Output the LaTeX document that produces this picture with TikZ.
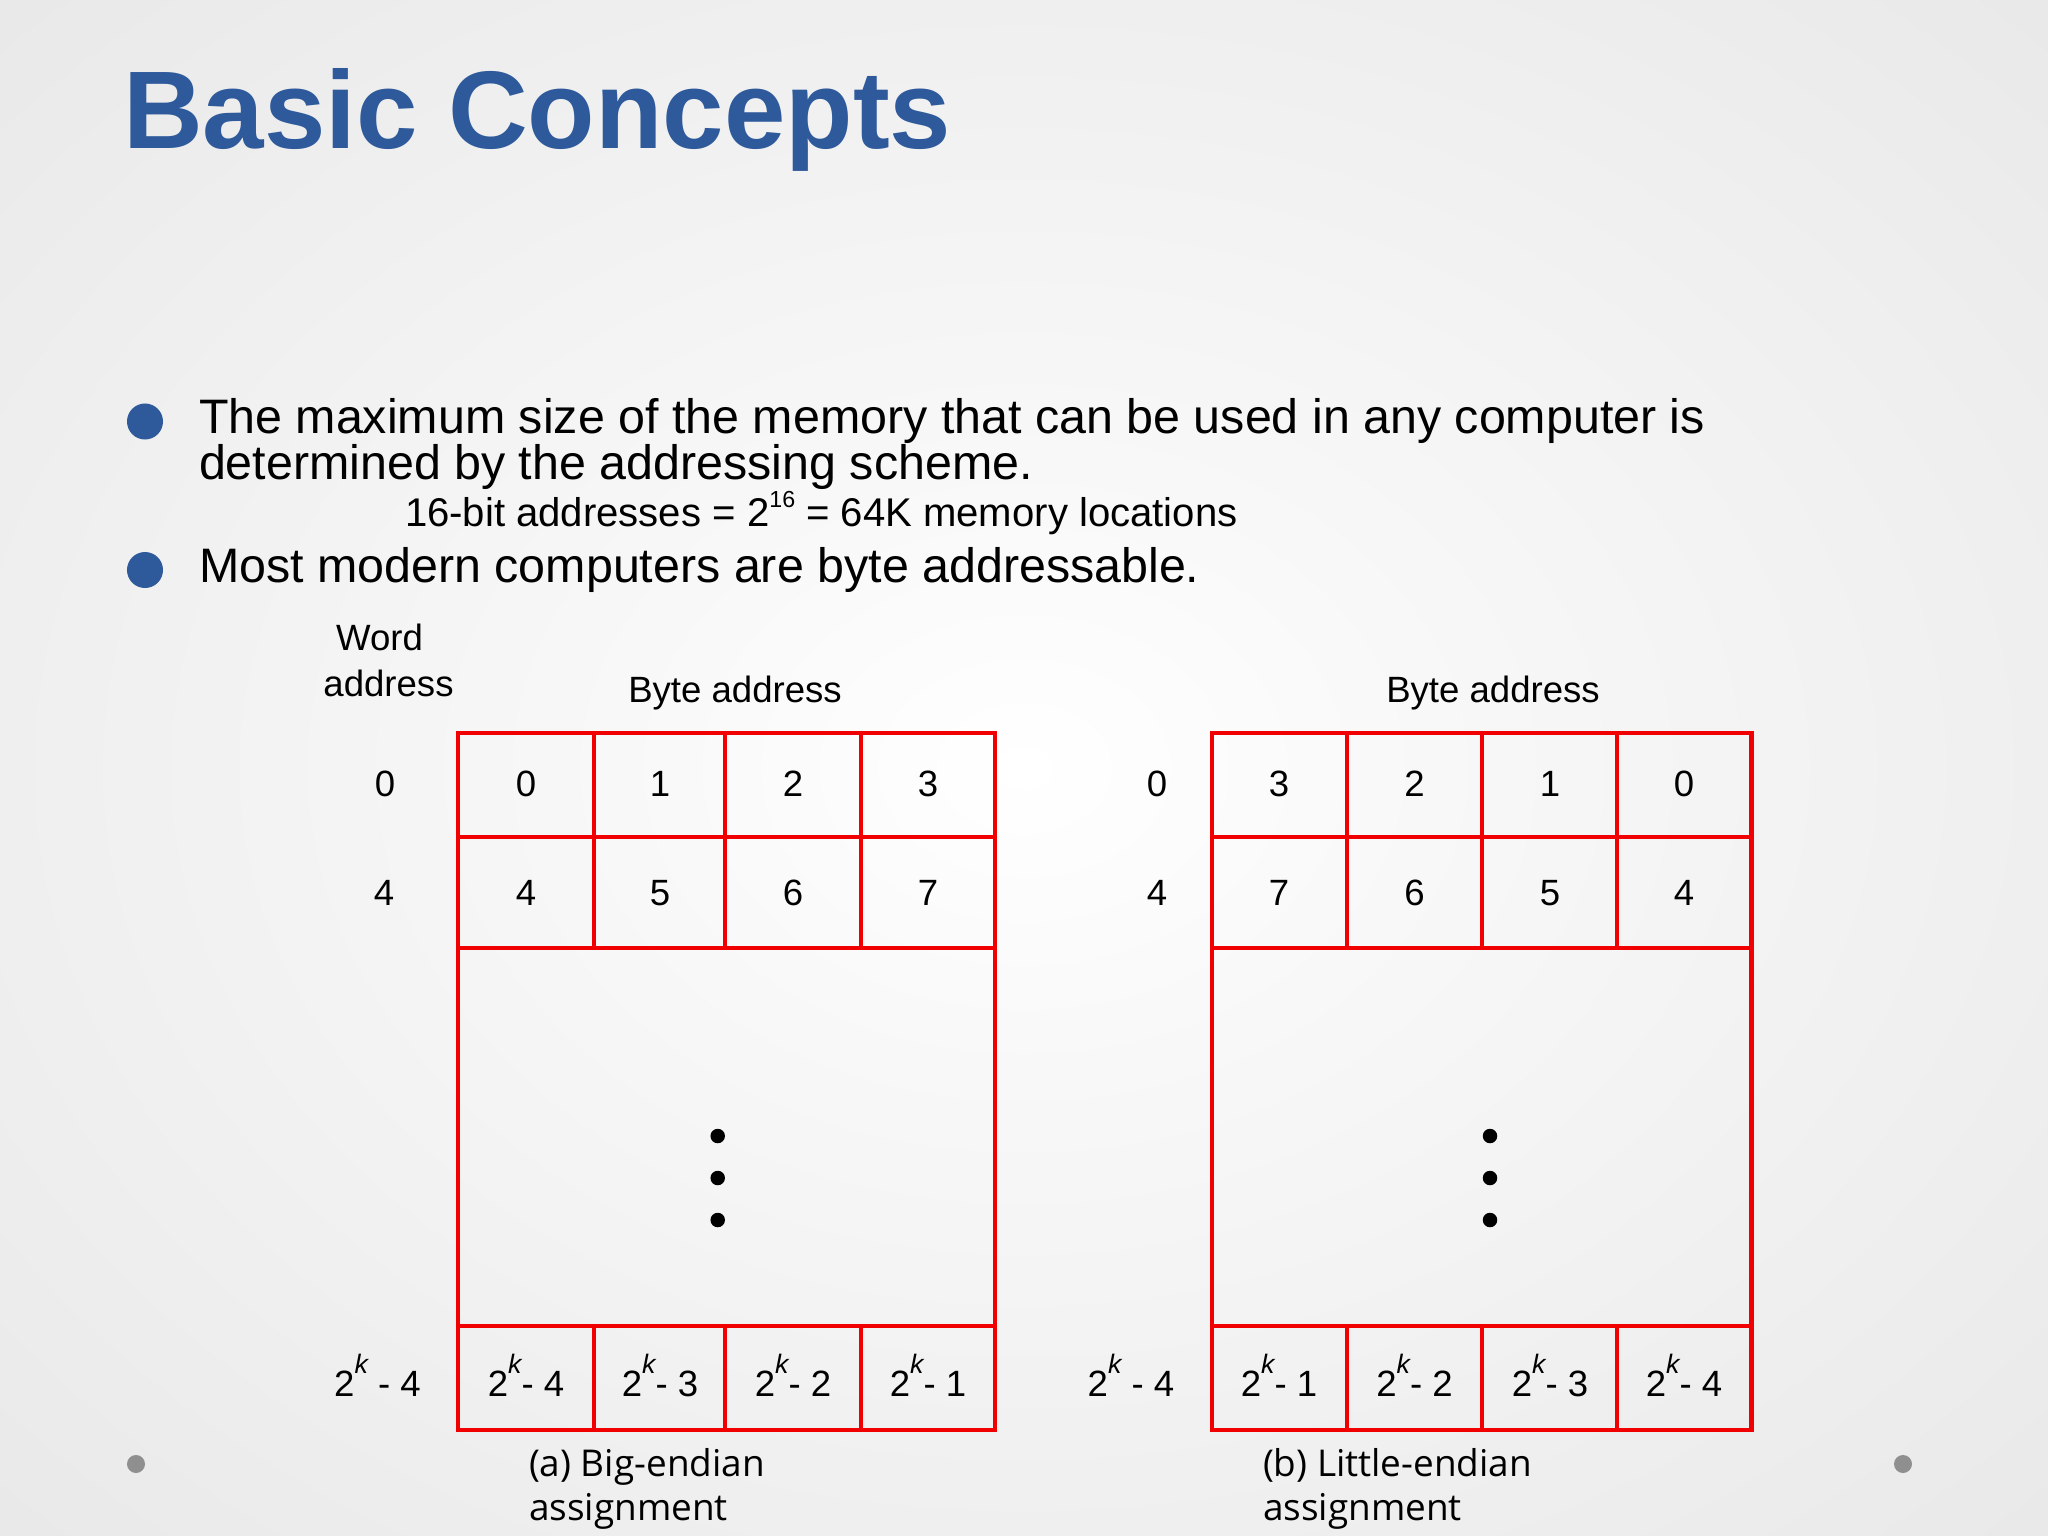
\documentclass[tikz,border=0pt]{standalone}
\usepackage{fontspec}
\setmainfont{Liberation Sans}
\newfontfamily\capfont{Open Sans}
\definecolor{titleblue}{RGB}{46,90,156}
\definecolor{bgA}{RGB}{248,248,248}
\definecolor{bgB}{RGB}{224,224,224}
\definecolor{bgC}{RGB}{210,210,210}
\definecolor{dotgray}{RGB}{143,143,143}
\definecolor{cellred}{RGB}{240,0,0}
\pgfdeclareradialshading{slidebg}{\pgfpoint{0bp}{0bp}}{color(0bp)=(white); color(10bp)=(bgA); color(50bp)=(bgB); color(72bp)=(bgC)}
\newcommand\kexp{\raisebox{0.62em}{\fontsize{7.6}{8}\selectfont\itshape k}}
\newcommand\sixteen{\raisebox{0.48em}{\fontsize{6.6}{7}\selectfont 16}}
\begin{document}
\begin{tikzpicture}[x=0.01cm,y=-0.01cm,
  every node/.style={inner sep=0pt, outer sep=0pt},
  titletxt/.style={anchor=base west, text=titleblue, font=\fontsize{31.4}{36}\selectfont\bfseries},
  bodytxt/.style={anchor=base west, font=\fontsize{13.76}{16}\selectfont},
  subtxt/.style={anchor=base west, font=\fontsize{11.4}{14}\selectfont},
  tabtxt/.style={anchor=base, font=\fontsize{10.4}{12}\selectfont},
  captxt/.style={anchor=base west, font=\capfont\fontsize{10.5}{12}\selectfont},
  bulletdot/.style={circle, fill=titleblue, minimum size=0.36cm},
  pagedot/.style={circle, fill=dotgray, minimum size=0.18cm},
  ellipsisdot/.style={circle, fill=black, minimum size=0.145cm},
  gridline/.style={draw=cellred, line width=1.15pt}]
\shade[shading=slidebg] (0,0) rectangle (2048,1536);
\useasboundingbox (0,0) rectangle (2048,1536);

% title
\node[titletxt] (title) at (123,148) {Basic Concepts};

% bullets
\node[bulletdot] (b1) at (145,421.5) {};
\node[bulletdot] (b2) at (145,570) {};
\node[bodytxt] (l1) at (199,433.6) {The maximum size of the memory that can be used in any computer is};
\node[bodytxt] (l2) at (199,479.3) {determined by the addressing scheme.};
\node[subtxt] (l3) at (405,526.3) {16-bit addresses = 2\sixteen\ = 64K memory locations};
\node[bodytxt] (l4) at (199,582.5) {Most modern computers are byte addressable.};

% page dots
\node[pagedot] (pd1) at (136,1464) {};
\node[pagedot] (pd2) at (1903,1464) {};

% ---------- left table (big-endian) ----------
\draw[gridline] (458.4,732.7) rectangle (995.2,1430.2);
\foreach \yy in {837.2,948.2,1325.7} \draw[gridline] (458.4,\yy) -- (995.2,\yy);
\foreach \xx in {594.3,724.9,860.7} {
  \draw[gridline] (\xx,732.7) -- (\xx,948.2);
  \draw[gridline] (\xx,1325.7) -- (\xx,1430.2);
}
\node[tabtxt] (wa1) at (379.5,650.7) {Word};
\node[tabtxt] (wa2) at (388.5,696.7) {address};
\node[tabtxt] (ba1) at (735,702) {Byte address};
\node[tabtxt] (lr1) at (385,796) {0};
\node[tabtxt] (lr2) at (384,905) {4};
\node[tabtxt] (lr3) at (377.5,1396) {2\kexp\ - 4};
\node[tabtxt] (a11) at (526,796) {0};
\node[tabtxt] (a12) at (660,796) {1};
\node[tabtxt] (a13) at (793,796) {2};
\node[tabtxt] (a14) at (928,796) {3};
\node[tabtxt] (a21) at (526,905) {4};
\node[tabtxt] (a22) at (660,905) {5};
\node[tabtxt] (a23) at (793,905) {6};
\node[tabtxt] (a24) at (928,905) {7};
\node[tabtxt] (a31) at (526,1396) {2\kexp- 4};
\node[tabtxt] (a32) at (660,1396) {2\kexp- 3};
\node[tabtxt] (a33) at (793,1396) {2\kexp- 2};
\node[tabtxt] (a34) at (928,1396) {2\kexp- 1};
\node[ellipsisdot] (ld1) at (717.7,1136) {};
\node[ellipsisdot] (ld2) at (717.7,1178) {};
\node[ellipsisdot] (ld3) at (717.7,1220) {};
\node[captxt] (capa1) at (529,1476) {(a) Big-endian};
\node[captxt] (capa2) at (529,1520) {assignment};

% ---------- right table (little-endian) ----------
\draw[gridline] (1212.1,732.7) rectangle (1751.5,1430.2);
\foreach \yy in {837.2,948.2,1325.7} \draw[gridline] (1212.1,\yy) -- (1751.5,\yy);
\foreach \xx in {1346.6,1482.4,1617.0} {
  \draw[gridline] (\xx,732.7) -- (\xx,948.2);
  \draw[gridline] (\xx,1325.7) -- (\xx,1430.2);
}
\node[tabtxt] (bb1) at (1493,702) {Byte address};
\node[tabtxt] (rr1) at (1157,796) {0};
\node[tabtxt] (rr2) at (1157,905) {4};
\node[tabtxt] (rr3) at (1131,1396) {2\kexp\ - 4};
\node[tabtxt] (b11) at (1279,796) {3};
\node[tabtxt] (b12) at (1414.5,796) {2};
\node[tabtxt] (b13) at (1550,796) {1};
\node[tabtxt] (b14) at (1684,796) {0};
\node[tabtxt] (b21) at (1279,905) {7};
\node[tabtxt] (b22) at (1414.5,905) {6};
\node[tabtxt] (b23) at (1550,905) {5};
\node[tabtxt] (b24) at (1684,905) {4};
\node[tabtxt] (b31) at (1279,1396) {2\kexp- 1};
\node[tabtxt] (b32) at (1414.5,1396) {2\kexp- 2};
\node[tabtxt] (b33) at (1550,1396) {2\kexp- 3};
\node[tabtxt] (b34) at (1684,1396) {2\kexp- 4};
\node[ellipsisdot] (rd1) at (1490,1136) {};
\node[ellipsisdot] (rd2) at (1490,1178) {};
\node[ellipsisdot] (rd3) at (1490,1220) {};
\node[captxt] (capb1) at (1263,1476) {(b) Little-endian};
\node[captxt] (capb2) at (1263,1520) {assignment};
\end{tikzpicture}
\end{document}
